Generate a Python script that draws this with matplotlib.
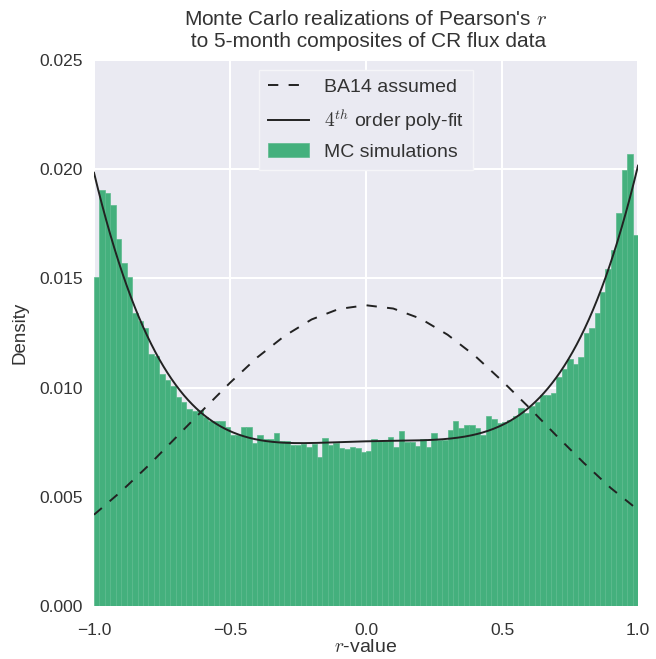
import numpy as np
import matplotlib
matplotlib.use('Agg')
import matplotlib.pyplot as plt

# Heights of the 100 histogram bins (r from -1 to 1)
mc_density = [
    0.01507, 0.01903, 0.01893, 0.01835, 0.01681, 0.01572, 0.01505, 0.01342, 0.01307, 0.01272,
    0.01156, 0.01144, 0.01061, 0.01035, 0.01006, 0.00955, 0.00933, 0.00900, 0.00894, 0.00897,
    0.00866, 0.00848, 0.00848, 0.00848, 0.00819, 0.00782, 0.00782, 0.00818, 0.00819, 0.00746,
    0.00784, 0.00763, 0.00763, 0.00791, 0.00755, 0.00755, 0.00737, 0.00737, 0.00744, 0.00726,
    0.00744, 0.00683, 0.00769, 0.00738, 0.00747, 0.00723, 0.00720, 0.00729, 0.00724, 0.00705,
    0.00708, 0.00764, 0.00755, 0.00755, 0.00772, 0.00726, 0.00801, 0.00749, 0.00752, 0.00734,
    0.00764, 0.00726, 0.00791, 0.00761, 0.00761, 0.00804, 0.00848, 0.00813, 0.00827, 0.00827,
    0.00816, 0.00782, 0.00869, 0.00854, 0.00839, 0.00843, 0.00851, 0.00869, 0.00907, 0.00882,
    0.00915, 0.00933, 0.00964, 0.00967, 0.00976, 0.01049, 0.01086, 0.01132, 0.01106, 0.01141,
    0.01248, 0.01273, 0.01342, 0.01438, 0.01545, 0.01632, 0.01799, 0.01998, 0.02071, 0.01697,
]

# BA14 assumed curve, read at r = -1.0, -0.9, ..., 1.0
ba14_r = [-1.0, -0.9, -0.8, -0.7, -0.6, -0.5, -0.4, -0.3, -0.2, -0.1, 0.0,
          0.1, 0.2, 0.3, 0.4, 0.5, 0.6, 0.7, 0.8, 0.9, 1.0]
ba14_density = [0.00418, 0.00525, 0.00643, 0.00770, 0.00897, 0.01022, 0.01138, 0.01236, 0.01312, 0.01360, 0.01377,
                0.01362, 0.01316, 0.01242, 0.01146, 0.01031, 0.00908, 0.00780, 0.00656, 0.00540, 0.00440]

plt.rcParams['font.family'] = ['Liberation Sans', 'DejaVu Sans']
plt.rcParams['mathtext.fontset'] = 'cm'
plt.rcParams['text.color'] = '.2'
plt.rcParams['axes.labelcolor'] = '.2'
plt.rcParams['xtick.color'] = '.2'
plt.rcParams['ytick.color'] = '.2'

fig = plt.figure(figsize=(6.56, 6.59), dpi=100)
ax = fig.add_axes([0.1433, 0.0804, 0.8293, 0.8286])
ax.set_facecolor('#EAEAF2')
for s in ax.spines.values():
    s.set_visible(False)
ax.grid(True, color='white', linewidth=1.5)
ax.set_axisbelow(True)

edges = np.linspace(-1, 1, len(mc_density) + 1)
centers = 0.5 * (edges[:-1] + edges[1:])

ax.bar(edges[:-1], mc_density, width=np.diff(edges), align='edge',
       color='#44b07d', edgecolor='#5cba8d', linewidth=0.5,
       label='MC simulations', zorder=2)

ax.plot(ba14_r, ba14_density, color='#222222', lw=1.4, dashes=(5.3, 5.3),
        label='BA14 assumed', zorder=3)

# 4th order polynomial fit to the histogram
coef = np.polyfit(centers, mc_density, 4)
xfit = np.linspace(-1, 1, 400)
ax.plot(xfit, np.polyval(coef, xfit), color='#222222', lw=1.4,
        label=r'$4^{th}$ order poly-fit', zorder=3)

ax.set_xlim(-1, 1)
ax.set_ylim(0, 0.025)
ax.set_xticks([-1.0, -0.5, 0.0, 0.5, 1.0])
ax.set_xticklabels(['\u22121.0', '\u22120.5', '0.0', '0.5', '1.0'])
ax.set_yticks([0.0, 0.005, 0.010, 0.015, 0.020, 0.025])
ax.set_yticklabels(['0.000', '0.005', '0.010', '0.015', '0.020', '0.025'])
ax.tick_params(length=0, labelsize=12.5)
ax.tick_params(axis='x', pad=12)
ax.tick_params(axis='y', pad=8)

ax.set_xlabel(r'$r$-value', fontsize=14, labelpad=1)
ax.set_ylabel('Density', fontsize=13.5, labelpad=8)
ax.set_title("Monte Carlo realizations of Pearson's $r$\n to 5-month composites of CR flux data",
             fontsize=15, pad=9, linespacing=1.25)

leg = ax.legend(loc='upper center', fontsize=14, frameon=True,
                facecolor='#EAEAF2', edgecolor='#f5f5f8', framealpha=1,
                fancybox=False, borderpad=0.45, handlelength=2.1,
                labelspacing=0.55, borderaxespad=0.5)

fig.savefig('out.png', dpi=100)
